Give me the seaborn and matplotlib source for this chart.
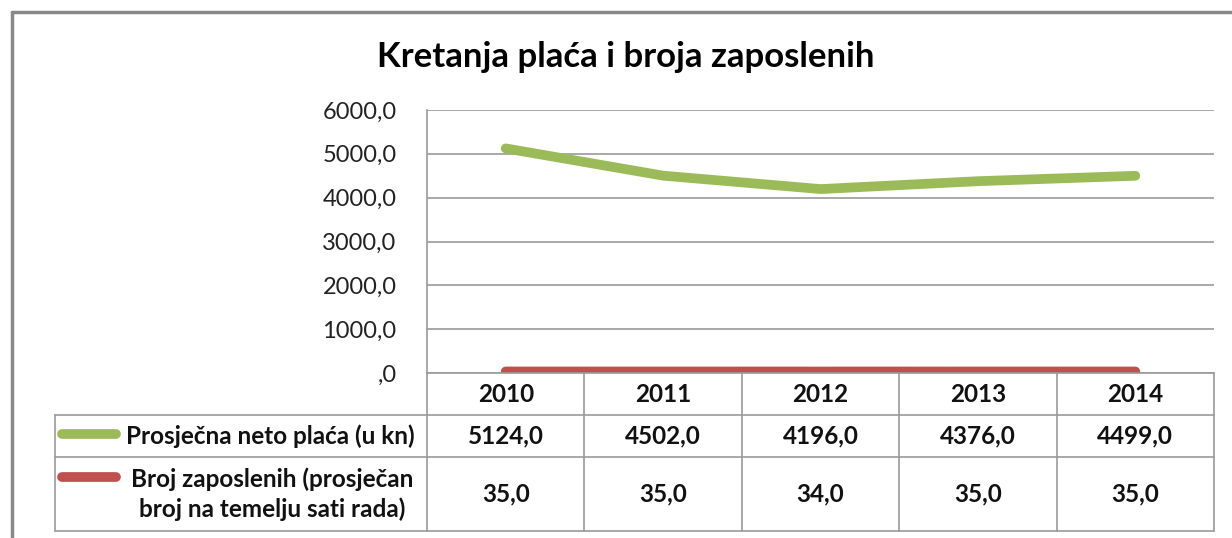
import numpy as np
import pandas as pd
import matplotlib.pyplot as plt
import matplotlib.transforms as mtransforms
from matplotlib.lines import Line2D
import seaborn as sns

# data
years = ["2010", "2011", "2012", "2013", "2014"]
placa = [5124.0, 4502.0, 4196.0, 4376.0, 4499.0]
zaposleni = [35.0, 35.0, 34.0, 35.0, 35.0]
series_names = ["Prosječna neto plaća (u kn)",
                "Broj zaposlenih (prosječan\nbroj na temelju sati rada)"]
series_colors = ["#9BBB59", "#C0504D"]
yticks = [0, 1000, 2000, 3000, 4000, 5000, 6000]

sns.set_theme(style="white")
plt.rcParams["font.family"] = ["Lato", "DejaVu Sans"]

df = pd.DataFrame({
    "x": list(range(len(years))) * 2,
    "value": placa + zaposleni,
    "serija": [series_names[0]] * len(years) + [series_names[1]] * len(years),
})

W, H = 1232, 538
fig = plt.figure(figsize=(W / 100, H / 100), dpi=100)
ax = fig.add_axes([427 / W, 1 - 373 / H, (1214 - 427) / W, (373 - 110) / H])

sns.lineplot(data=df, x="x", y="value", hue="serija", palette=series_colors,
             linewidth=7, ax=ax, legend=False, solid_capstyle="round",
             solid_joinstyle="round")

ax.set_xlim(-0.5, len(years) - 0.5)
ax.set_ylim(0, 6000)
ax.set_yticks(yticks)
ax.set_yticklabels([f"{v:.1f}".replace(".", ",") if v else ",0" for v in yticks],
                   fontsize=17, color="#222222")
ax.tick_params(axis="y", length=0, pad=22)
ax.set_xticks([])
ax.set_xlabel("")
ax.set_ylabel("")
ax.grid(axis="y", color="#999999", linewidth=1.2)
ax.grid(axis="x", visible=False)
for side in ["top", "right", "bottom"]:
    ax.spines[side].set_visible(False)
ax.spines["left"].set_color("#999999")
ax.spines["left"].set_linewidth(1.2)

# data table under the axes (x in data coords, y in pixels from the top)
trans = mtransforms.blended_transform_factory(ax.transData, fig.transFigure)

def fy(py):
    return 1 - py / H

gray = "#999999"
txt = "#111111"
fs = 17.5
left_edge = -0.5 - (427 - 55) / ((1214 - 427) / len(years))
right_edge = len(years) - 0.5
row_lines = [373, 415, 457, 531]

# horizontal table lines
fig.add_artist(Line2D([-0.5, right_edge], [fy(373), fy(373)], transform=trans,
                      color=gray, lw=1.2))
for py in row_lines[1:]:
    fig.add_artist(Line2D([left_edge, right_edge], [fy(py), fy(py)],
                          transform=trans, color=gray, lw=1.2))
# vertical table lines
fig.add_artist(Line2D([left_edge, left_edge], [fy(415), fy(531)], transform=trans,
                      color=gray, lw=1.2))
for i in range(len(years) + 1):
    xb = i - 0.5
    fig.add_artist(Line2D([xb, xb], [fy(373), fy(531)], transform=trans,
                          color=gray, lw=1.2))

# header row and values
for i, yr in enumerate(years):
    fig.text(i, fy(394), yr, transform=trans, ha="center", va="center",
             fontsize=fs, fontweight="bold", color=txt)
    fig.text(i, fy(436), f"{placa[i]:.1f}".replace(".", ","), transform=trans,
             ha="center", va="center", fontsize=fs, fontweight="bold", color=txt)
    fig.text(i, fy(494), f"{zaposleni[i]:.1f}".replace(".", ","), transform=trans,
             ha="center", va="center", fontsize=fs, fontweight="bold", color=txt)

# row headers with legend keys
fig.add_artist(Line2D([62 / W, 116 / W], [fy(434), fy(434)], color=series_colors[0],
                      lw=7, solid_capstyle="round"))
fig.text(270 / W, fy(436), series_names[0], ha="center", va="center", fontsize=fs,
         fontweight="bold", color=txt)
fig.add_artist(Line2D([62 / W, 116 / W], [fy(477), fy(477)], color=series_colors[1],
                      lw=7, solid_capstyle="round"))
fig.text(272 / W, fy(494), series_names[1], ha="center", va="center", fontsize=fs,
         fontweight="bold", color=txt, linespacing=1.3, multialignment="center")

# title
fig.text(626 / W, fy(57), "Kretanja plaća i broja zaposlenih", ha="center",
         va="center", fontsize=25, fontweight="bold", color="#000000")

# outer chart frame
fig.add_artist(Line2D([12 / W, 12 / W], [0, fy(12)], color="#888888", lw=2.5))
fig.add_artist(Line2D([12 / W, 1], [fy(12), fy(12)], color="#888888", lw=2.5))

plt.savefig("out.png", dpi=100)
